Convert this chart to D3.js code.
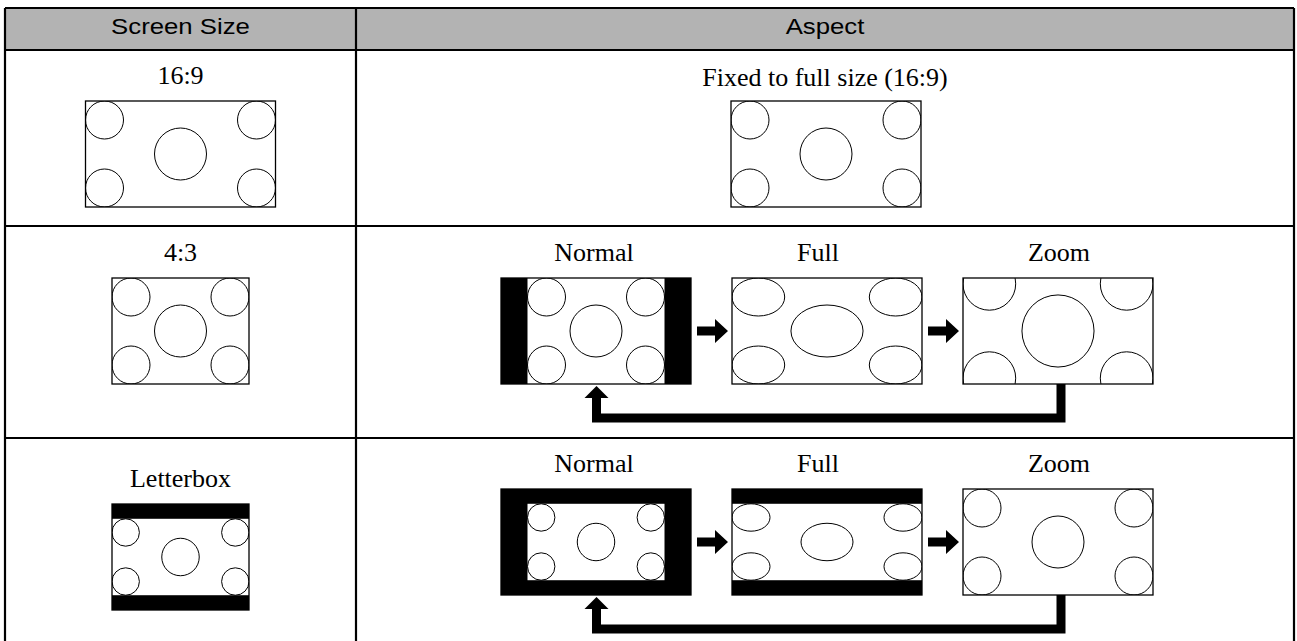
<!DOCTYPE html>
<html>
<head>
<meta charset="utf-8">
<script src="https://cdn.jsdelivr.net/npm/d3@7/dist/d3.min.js"></script>
<style>
  body { margin: 0; background: #fff; }
  svg { display: block; }
</style>
</head>
<body>
<svg id="chart" width="1297" height="641"></svg>
<script>
// table text
const headers = ["Screen Size", "Aspect"];
const screenSizes = ["16:9", "4:3", "Letterbox"];
const fixedLabel = "Fixed to full size (16:9)";
const modes = ["Normal", "Full", "Zoom"];
// picture shown in each screen-size row
const rowSources = ["wide", "std", "letterbox"];

const svg = d3.select("#chart");

// table frame
const tableLeft = 5, tableRight = 1294, colSplit = 356;
const rowEdges = [8, 50, 226, 438, 700];
const serif = "'Liberation Serif', 'Times New Roman', serif";
const sans = "'Liberation Sans', Arial, sans-serif";

// picture geometry
const frameH = 106, wideW = 190, stdW = 137;
const cornerR = 19, centerR = 26;

const leftX = d3.scaleLinear().domain([0, 1]).range([tableLeft, colSplit]);
const rightX = d3.scaleLinear().domain([0, 1]).range([colSplit, tableRight]);
const modeX = d3.scaleBand().domain(modes).range([501, 1153]).paddingInner(41 / 231).paddingOuter(0);

// header background + text
svg.append("rect")
  .attr("x", tableLeft).attr("y", rowEdges[0])
  .attr("width", tableRight - tableLeft).attr("height", rowEdges[1] - rowEdges[0])
  .attr("fill", "#b3b3b3");

svg.selectAll("text.head")
  .data(headers)
  .enter()
  .append("text")
  .attr("class", "head")
  .attr("x", (d, i) => i === 0 ? leftX(0.5) : rightX(0.5))
  .attr("y", 34)
  .attr("text-anchor", "middle")
  .attr("font-family", sans)
  .attr("font-size", 22)
  .text(d => d)
  .each(function () {
    // reference lettering is a bit wider than Liberation Sans
    const len = this.getComputedTextLength();
    d3.select(this).attr("textLength", len * 1.17).attr("lengthAdjust", "spacingAndGlyphs");
  });

// basic test picture: four corner circles and one in the middle
function drawPicture(g, w, h) {
  g.append("rect").attr("width", w).attr("height", h).attr("fill", "#fff");
  const pts = [
    [cornerR, cornerR, cornerR], [w - cornerR, cornerR, cornerR],
    [cornerR, h - cornerR, cornerR], [w - cornerR, h - cornerR, cornerR],
    [w / 2, h / 2, centerR]
  ];
  g.selectAll("circle")
    .data(pts)
    .enter()
    .append("circle")
    .attr("cx", d => d[0]).attr("cy", d => d[1]).attr("r", d => d[2])
    .attr("fill", "none")
    .attr("stroke", "#000")
    .attr("stroke-width", 1)
    .attr("vector-effect", "non-scaling-stroke");
}

const sources = {
  wide: { w: wideW, h: frameH, draw: g => drawPicture(g, wideW, frameH) },
  std: { w: stdW, h: frameH, draw: g => drawPicture(g, stdW, frameH) },
  letterbox: {
    w: stdW, h: frameH,
    draw: g => {
      g.append("rect").attr("width", stdW).attr("height", frameH).attr("fill", "#000");
      const k = stdW / wideW;
      const inner = g.append("g")
        .attr("transform", `translate(0,${(frameH - frameH * k) / 2}) scale(${k})`);
      drawPicture(inner, wideW, frameH);
    }
  }
};

let clipId = 0;
// draw a source picture into a box, scaled by sx/sy around its centre
function drawCell(x, y, w, h, src, sx, sy) {
  const id = "clip" + (clipId++);
  svg.append("clipPath").attr("id", id)
    .append("rect").attr("x", x).attr("y", y).attr("width", w).attr("height", h);
  svg.append("rect").attr("x", x).attr("y", y).attr("width", w).attr("height", h).attr("fill", "#000");
  const g = svg.append("g").attr("clip-path", `url(#${id})`)
    .append("g")
    .attr("transform", `translate(${x + w / 2},${y + h / 2}) scale(${sx},${sy}) translate(${-src.w / 2},${-src.h / 2})`);
  src.draw(g);
  svg.append("rect").attr("x", x).attr("y", y).attr("width", w).attr("height", h)
    .attr("fill", "none").attr("stroke", "#000").attr("stroke-width", 1.3);
}

function label(x, y, t) {
  svg.append("text")
    .attr("x", x).attr("y", y)
    .attr("text-anchor", "middle")
    .attr("font-family", serif)
    .attr("font-size", 26)
    .attr("fill", "#000")
    .text(t);
}

function rightArrow(x0, x1, cy) {
  const pts = [
    [x0, cy - 4.5], [x1 - 13, cy - 4.5], [x1 - 13, cy - 12], [x1, cy],
    [x1 - 13, cy + 12], [x1 - 13, cy + 4.5], [x0, cy + 4.5]
  ];
  svg.append("polygon").attr("points", pts.map(p => p.join(",")).join(" ")).attr("fill", "#000");
}

function returnArrow(fromX, toX, boxBottom) {
  const yLine = boxBottom + 34;
  svg.append("path")
    .attr("d", d3.line()([[fromX, boxBottom], [fromX, yLine], [toX, yLine], [toX, boxBottom + 13]]))
    .attr("fill", "none").attr("stroke", "#000").attr("stroke-width", 9)
    .attr("stroke-linejoin", "miter");
  svg.append("polygon")
    .attr("points", [[toX - 12, boxBottom + 14], [toX + 12, boxBottom + 14], [toX, boxBottom + 2]].map(p => p.join(",")).join(" "))
    .attr("fill", "#000");
}

// ---- row 1 : 16:9 ----
label(leftX(0.5), rowEdges[1] + 34, screenSizes[0]);
drawCell(leftX(0.5) - wideW / 2, rowEdges[1] + 51, wideW, frameH, sources[rowSources[0]], 1, 1);
label(rightX(0.5), rowEdges[1] + 36, fixedLabel);
drawCell(731, rowEdges[1] + 51, wideW, frameH, sources.wide, 1, 1);

// ---- rows 2 and 3 : 4:3, Letterbox ----
const labelOffset = [0, 35, 49];
const leftBoxOffset = [0, 52, 66];
const modeLabelOffset = [0, 35, 34];
const modeBoxOffset = [0, 52, 51];
const modeLabelX = { Normal: 594, Full: 818, Zoom: 1059 };

[1, 2].forEach(r => {
  const top = rowEdges[r + 1]; // header occupies rowEdges[0..1]
  const src = sources[rowSources[r]];
  label(leftX(0.5), top + labelOffset[r], screenSizes[r]);
  drawCell(leftX(0.5) - src.w / 2, top + leftBoxOffset[r], src.w, src.h, src, 1, 1);

  const by = top + modeBoxOffset[r];
  const k = wideW / src.w;
  modes.forEach(m => {
    label(modeLabelX[m], top + modeLabelOffset[r], m);
    const sx = m === "Normal" ? 1 : k;
    const sy = m === "Zoom" ? k : 1;
    drawCell(modeX(m), by, modeX.bandwidth(), frameH, src, sx, sy);
  });
  rightArrow(modeX("Normal") + wideW + 6, modeX("Full") - 4, by + frameH / 2);
  rightArrow(modeX("Full") + wideW + 6, modeX("Zoom") - 4, by + frameH / 2);
  returnArrow(modeX("Zoom") + wideW / 2 + 3, modeX("Normal") + wideW / 2 + 0.5, by + frameH);
});

// ---- table grid lines ----
const grid = svg.append("g").attr("stroke", "#000").attr("stroke-width", 2.2);
rowEdges.forEach(y => {
  grid.append("line").attr("x1", tableLeft).attr("x2", tableRight).attr("y1", y).attr("y2", y);
});
[tableLeft, colSplit, tableRight].forEach(x => {
  grid.append("line").attr("x1", x).attr("x2", x).attr("y1", rowEdges[0]).attr("y2", rowEdges[rowEdges.length - 1]);
});
</script>
</body>
</html>
